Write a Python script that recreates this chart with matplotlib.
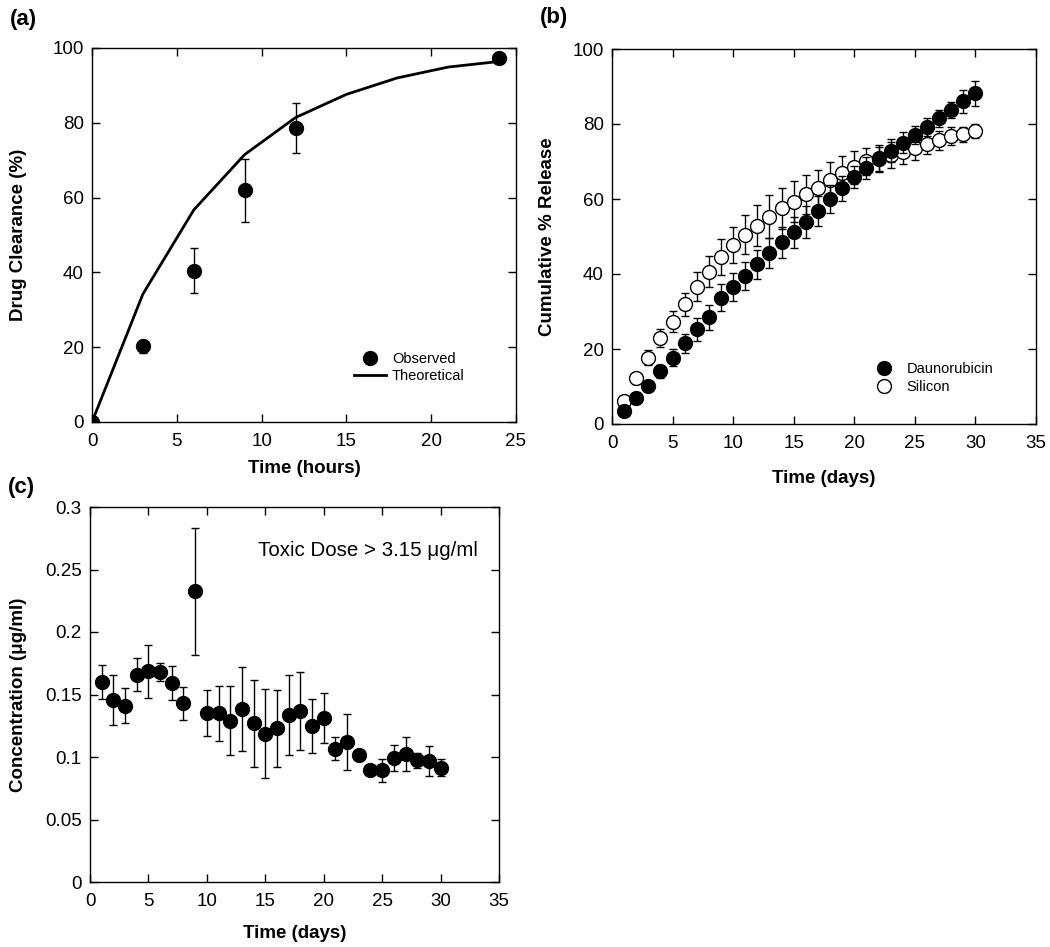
import matplotlib
matplotlib.use("Agg")
import matplotlib.pyplot as plt
from matplotlib.lines import Line2D

plt.rcParams['font.family'] = ['Liberation Sans', 'DejaVu Sans']

# ---- Panel (a) data ----
a_obs_t = [0, 3, 6, 9, 12, 24]
a_obs_y = [0, 20.2, 40.5, 62.0, 78.5, 97.4]
a_obs_err = [0, 1.8, 6.0, 8.4, 6.7, 0]
a_theo_t = [0, 3, 6, 9, 12, 15, 18, 21, 24]
a_theo_y = [0, 34.2, 56.7, 71.5, 81.4, 87.6, 92.0, 94.9, 96.4]

# ---- Panel (b) data ----
b_days = list(range(1, 31))
b_dauno = [3.5, 7.0, 10.1, 14.0, 17.7, 21.5, 25.2, 28.4, 33.7, 36.6,
           39.5, 42.6, 45.5, 48.4, 51.1, 53.8, 56.9, 59.9, 62.8, 65.8,
           68.2, 70.7, 72.9, 75.0, 77.1, 79.3, 81.5, 83.7, 86.0, 88.2]
b_dauno_err = [0.8, 1.0, 1.2, 1.8, 2.2, 2.6, 3.0, 3.4, 3.6, 3.7,
               3.8, 3.9, 4.0, 4.1, 4.2, 4.2, 4.0, 3.7, 3.4, 3.0,
               3.0, 3.2, 3.0, 2.8, 2.4, 2.4, 2.3, 2.2, 3.0, 3.3]
b_sil = [6.1, 12.2, 17.7, 22.8, 27.3, 31.9, 36.6, 40.6, 44.6, 47.7,
         50.4, 52.9, 55.3, 57.5, 59.3, 61.3, 62.8, 65.1, 66.8, 68.4,
         70.0, 70.8, 71.7, 72.6, 73.5, 74.7, 75.6, 76.8, 77.3, 78.1]
b_sil_err = [0.8, 1.5, 2.0, 2.4, 2.7, 3.1, 3.8, 4.2, 4.8, 4.8,
             5.2, 5.4, 5.7, 5.5, 5.5, 5.2, 5.0, 4.8, 4.6, 4.4,
             3.6, 3.5, 3.5, 3.3, 3.0, 2.8, 2.5, 2.3, 2.0, 1.8]

# ---- Panel (c) data ----
c_days = list(range(1, 31))
c_conc = [0.160, 0.146, 0.141, 0.166, 0.1685, 0.168, 0.159, 0.143, 0.2325, 0.1355,
          0.135, 0.129, 0.1387, 0.127, 0.1187, 0.123, 0.1339, 0.137, 0.125, 0.131,
          0.1067, 0.112, 0.102, 0.0899, 0.0893, 0.0995, 0.1027, 0.0973, 0.0968, 0.0915]
c_err = [0.0135, 0.020, 0.014, 0.013, 0.021, 0.007, 0.0135, 0.013, 0.051, 0.0185,
         0.022, 0.0275, 0.0335, 0.035, 0.0355, 0.031, 0.032, 0.031, 0.0215, 0.020,
         0.009, 0.0225, 0.003, 0.002, 0.009, 0.0105, 0.0135, 0.006, 0.012, 0.007]

W, H = 1050, 947
fig = plt.figure(figsize=(W / 100, H / 100), dpi=100)

def px_axes(l, r, t, b):
    return fig.add_axes([l / W, 1 - b / H, (r - l) / W, (b - t) / H])

def style(ax):
    ax.tick_params(direction='in', top=True, right=True, length=6, width=1,
                   labelsize=13.5)
    ax.tick_params(axis='x', pad=8)
    ax.tick_params(axis='y', pad=6)
    for s in ax.spines.values():
        s.set_linewidth(1.0)

ms = 10
ebkw = dict(ecolor='black', elinewidth=1.0, capsize=3, capthick=1.0)
lab = dict(fontsize=13.5, fontweight='bold')

# (a)
axa = px_axes(92, 516, 48, 422)
axa.plot(a_theo_t, a_theo_y, color='black', lw=2, zorder=2)
axa.errorbar(a_obs_t, a_obs_y, yerr=a_obs_err, fmt='o', color='black',
             ms=ms, zorder=3, **ebkw)
axa.set_xlim(0, 25)
axa.set_ylim(0, 100)
axa.set_xticks([0, 5, 10, 15, 20, 25])
axa.set_yticks([0, 20, 40, 60, 80, 100])
style(axa)
axa.set_xlabel('Time (hours)', labelpad=7, **lab)
axa.set_ylabel('Drug Clearance (%)', labelpad=18, **lab)
handles = [Line2D([], [], marker='o', ls='none', color='black', ms=ms),
           Line2D([], [], color='black', lw=2)]
axa.legend(handles, ['Observed', 'Theoretical'], loc='lower right',
           bbox_to_anchor=(0.91, 0.07), frameon=False, fontsize=10.5,
           handlelength=2.2, handletextpad=0.4, labelspacing=0.2)
fig.text(10 / W, 1 - 20 / H, '(a)', fontsize=16, fontweight='bold', va='center')

# (b)
axb = px_axes(612, 1036, 49, 424)
axb.errorbar(b_days, b_sil, yerr=b_sil_err, fmt='o', mfc='white', mec='black',
             mew=1.0, ms=ms, zorder=2, **ebkw)
axb.errorbar(b_days, b_dauno, yerr=b_dauno_err, fmt='o', color='black',
             ms=ms, zorder=3, **ebkw)
axb.set_xlim(0, 35)
axb.set_ylim(0, 100)
axb.set_xticks(range(0, 36, 5))
axb.set_yticks(range(0, 101, 20))
style(axb)
axb.set_xlabel('Time (days)', labelpad=13, **lab)
axb.set_ylabel('Cumulative % Release', labelpad=12, **lab)
hb = [Line2D([], [], marker='o', ls='none', color='black', ms=ms),
      Line2D([], [], marker='o', ls='none', mfc='white', mec='black', ms=ms)]
axb.legend(hb, ['Daunorubicin', 'Silicon'], loc='lower left',
           bbox_to_anchor=(0.575, 0.045), frameon=False, fontsize=10.5,
           handletextpad=0.6, labelspacing=0.3)
fig.text(540 / W, 1 - 18 / H, '(b)', fontsize=16, fontweight='bold', va='center')

# (c)
axc = px_axes(90, 499, 507, 882)
axc.errorbar(c_days, c_conc, yerr=c_err, fmt='o', color='black', ms=ms,
             zorder=3, **ebkw)
axc.set_xlim(0, 35)
axc.set_ylim(0, 0.3)
axc.set_xticks(range(0, 36, 5))
axc.set_yticks([0, 0.05, 0.1, 0.15, 0.2, 0.25, 0.3])
axc.set_yticklabels(['0', '0.05', '0.1', '0.15', '0.2', '0.25', '0.3'])
style(axc)
axc.set_xlabel('Time (days)', labelpad=11, **lab)
axc.set_ylabel('Concentration (\u03bcg/ml)', labelpad=13, **lab)
axc.text(33.2, 0.265, 'Toxic Dose > 3.15 \u03bcg/ml', ha='right', va='center',
         fontsize=14.8)
fig.text(8 / W, 1 - 487 / H, '(c)', fontsize=16, fontweight='bold', va='center')

fig.savefig('out.png', dpi=100)
